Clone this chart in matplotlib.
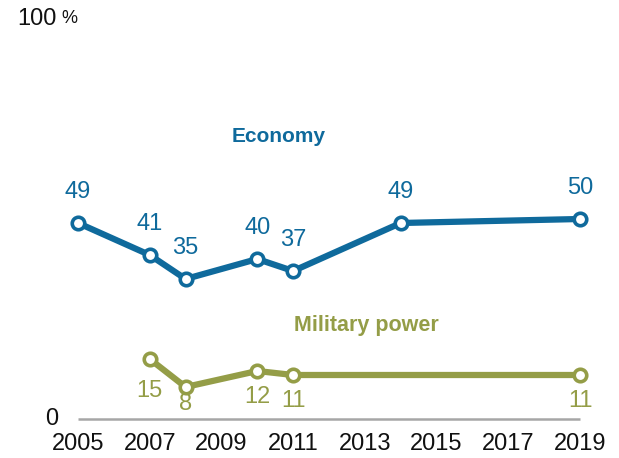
import matplotlib
matplotlib.use("Agg")
import matplotlib.pyplot as plt

plt.rcParams['font.family'] = ['Liberation Sans', 'DejaVu Sans']

years = [2005, 2007, 2008, 2010, 2011, 2014, 2019]
economy = [49, 41, 35, 40, 37, 49, 50]

mil_years = [2007, 2008, 2010, 2011, 2019]
military = [15, 8, 12, 11, 11]

xticks = [2005, 2007, 2009, 2011, 2013, 2015, 2017, 2019]

blue = "#0f6a9c"
olive = "#949d47"
fs = 17

fig = plt.figure(figsize=(6.19, 4.58), dpi=100)
ax = fig.add_axes([78 / 619, 39 / 458, 502 / 619, 400 / 458])
ax.set_xlim(2005, 2019)
ax.set_ylim(0, 100)
ax.axis("off")

# baseline
ax.plot([2005, 2019], [0, 0], color="#a6a6a6", lw=1.8, clip_on=False,
        solid_capstyle="butt", zorder=1)

mk = dict(marker="o", markersize=9, markerfacecolor="white",
          markeredgewidth=2.6, clip_on=False, zorder=3)
ax.plot(years, economy, color=blue, lw=4.5, markeredgecolor=blue, **mk)
ax.plot(mil_years, military, color=olive, lw=4.5, markeredgecolor=olive, **mk)

for x, v in zip(years, economy):
    ax.annotate(str(v), (x, v), xytext=(0, 22), textcoords="offset points",
                ha="center", va="center", fontsize=fs, color=blue)

for x, v in zip(mil_years, military):
    dy = {15: -23, 8: -12}.get(v, -19)
    ax.annotate(str(v), (x, v), xytext=(0, dy), textcoords="offset points",
                ha="center", va="center", fontsize=fs, color=olive)

ax.text(2010.6, 70.5, "Economy", color=blue, fontsize=15, fontweight="bold",
        ha="center", va="center")
ax.text(2013.05, 23.5, "Military power", color=olive, fontsize=15.5,
        fontweight="bold", ha="center", va="center")

# axis labels
for x in xticks:
    ax.text(x, -6.3, str(x), ha="center", va="center", fontsize=fs,
            color="#111111")
ax.text(-0.04, 0, "0", transform=ax.get_yaxis_transform(), ha="right",
        va="center", fontsize=fs, color="#111111")
ax.text(-0.122, 100, "100", transform=ax.get_yaxis_transform(), ha="left",
        va="center", fontsize=fs, color="#111111")
ax.text(-0.002, 100, "%", transform=ax.get_yaxis_transform(), ha="right",
        va="center", fontsize=13, color="#111111")

fig.savefig("out.png", dpi=100)
